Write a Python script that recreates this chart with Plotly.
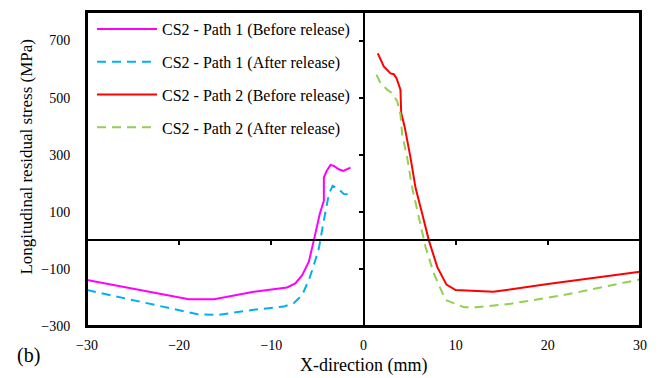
import plotly.graph_objects as go

# ---- data ----
p1_before_x = [-30, -18.95, -16.2, -11.9, -8.3, -7.4, -6.65, -5.93, -5.39, -4.74, -4.3, -4.3, -4.0, -3.58, -3.22, -2.68, -2.2, -1.77, -1.41]
p1_before_y = [-139, -206, -206, -180, -165, -151, -122, -75, 0, 93, 139, 220, 243, 264, 261, 249, 243, 249, 255]

p1_after_x = [-30, -18.0, -15.7, -11.9, -8.65, -7.56, -6.65, -5.93, -5.39, -4.85, -4.37, -3.76, -3.35, -2.7, -2.13, -1.1]
p1_after_y = [-174, -259, -261, -243, -232, -220, -191, -139, -87, -29, 58, 162, 191, 180, 162, 160]

p2_before_x = [1.55, 1.84, 2.2, 2.93, 3.29, 3.58, 4.01, 4.09, 4.45, 5.1, 5.64, 6.37, 7.09, 8.0, 9.0, 10.0, 14.1, 20.0, 30.0]
p2_before_y = [655, 632, 609, 585, 582, 568, 528, 446, 400, 290, 185, 93, 0, -93, -155, -174, -180, -153, -110]

p2_after_x = [1.41, 1.84, 2.57, 3.11, 3.66, 4.01, 4.2, 4.74, 5.28, 6.0, 6.73, 7.63, 8.9, 10.9, 12.3, 16.0, 22.0, 30.0]
p2_after_y = [580, 551, 528, 516, 487, 441, 371, 290, 185, 81, -23, -116, -209, -234, -234, -222, -190, -137]

names = ["CS2 - Path 1 (Before release)", "CS2 - Path 1 (After release)",
         "CS2 - Path 2 (Before release)", "CS2 - Path 2 (After release)"]

x_ticks = [-30, -20, -10, 0, 10, 20, 30]
y_ticks = [-300, -100, 100, 300, 500, 700]
x_range = [-30, 30]
y_range = [-300, 800]

FONT = "Times New Roman, Liberation Serif, DejaVu Serif, serif"

fig = go.Figure()
series = [
    (p1_before_x, p1_before_y, "#FF00FF", "solid"),
    (p1_after_x, p1_after_y, "#00B0F0", "9px,6px"),
    (p2_before_x, p2_before_y, "#FF0000", "solid"),
    (p2_after_x, p2_after_y, "#92D050", "9px,6px"),
]
for i, (xs, ys, col, dash) in enumerate(series):
    fig.add_trace(go.Scatter(x=xs, y=ys, mode="lines", name=names[i],
                             legendgroup=f"g{i}",
                             line=dict(color=col, width=2, dash=dash)))

# helper trace so that the zero-crossing axes (x2 / y2) are drawn
fig.add_trace(go.Scatter(x=[x_range[0]], y=[y_range[0]], xaxis="x2", yaxis="y2",
                         mode="markers", marker=dict(opacity=0, size=1),
                         showlegend=False, hoverinfo="skip"))

zero_y_pos = (0 - y_range[0]) / (y_range[1] - y_range[0])
zero_x_pos = (0 - x_range[0]) / (x_range[1] - x_range[0])

fig.update_layout(
    width=659, height=378,
    margin=dict(l=87, r=19, t=10, b=52),
    paper_bgcolor="white", plot_bgcolor="white",
    font=dict(family=FONT, size=14, color="black"),
    showlegend=True,
    legend=dict(x=5 / 553, y=1.0, xanchor="left", yanchor="top",
                bgcolor="rgba(0,0,0,0)", borderwidth=0,
                font=dict(family=FONT, size=16, color="black"),
                itemwidth=60, traceorder="grouped", tracegroupgap=9),
    xaxis=dict(range=x_range, tickvals=x_ticks, ticks="", showgrid=False,
               zeroline=False, showline=True, mirror=True, linecolor="black",
               linewidth=2, ticklabelstandoff=5,
               tickfont=dict(family=FONT, size=14, color="black")),
    yaxis=dict(range=y_range, tickvals=y_ticks, ticks="", showgrid=False,
               zeroline=False, showline=True, mirror=True, linecolor="black",
               linewidth=2, ticklabelstandoff=12,
               tickfont=dict(family=FONT, size=14, color="black")),
    xaxis2=dict(range=x_range, overlaying="x", anchor="free", position=zero_y_pos,
                tickvals=[-20, -10, 10, 20], ticks="outside", ticklen=4,
                tickwidth=1.5, tickcolor="black", showticklabels=False,
                showgrid=False, zeroline=False, showline=True,
                linecolor="black", linewidth=1.5),
    yaxis2=dict(range=y_range, overlaying="y", anchor="free", position=zero_x_pos,
                tickvals=y_ticks, ticks="outside", ticklen=4, tickwidth=1.5,
                tickcolor="black", showticklabels=False, showgrid=False,
                zeroline=False, showline=True, linecolor="black", linewidth=1.5),
    shapes=[
        dict(type="rect", xref="paper", yref="paper", x0=0, y0=0, x1=1, y1=1,
             line=dict(color="black", width=2), fillcolor="rgba(0,0,0,0)", layer="above"),
    ],
    annotations=[
        dict(text="X-direction (mm)", xref="paper", yref="paper", x=0.5, y=-0.125,
             xanchor="center", yanchor="middle", showarrow=False,
             font=dict(family=FONT, size=18, color="black")),
        dict(text="Longitudinal residual stress (MPa)", xref="paper", yref="paper",
             x=-0.11, y=0.54, xanchor="center", yanchor="middle", textangle=-90,
             showarrow=False, font=dict(family=FONT, size=17, color="black")),
        dict(text="(b)", xref="paper", yref="paper", x=-0.13, y=-0.095,
             xanchor="left", yanchor="middle", showarrow=False,
             font=dict(family=FONT, size=20, color="black")),
    ],
)

fig.write_html("out.html")
